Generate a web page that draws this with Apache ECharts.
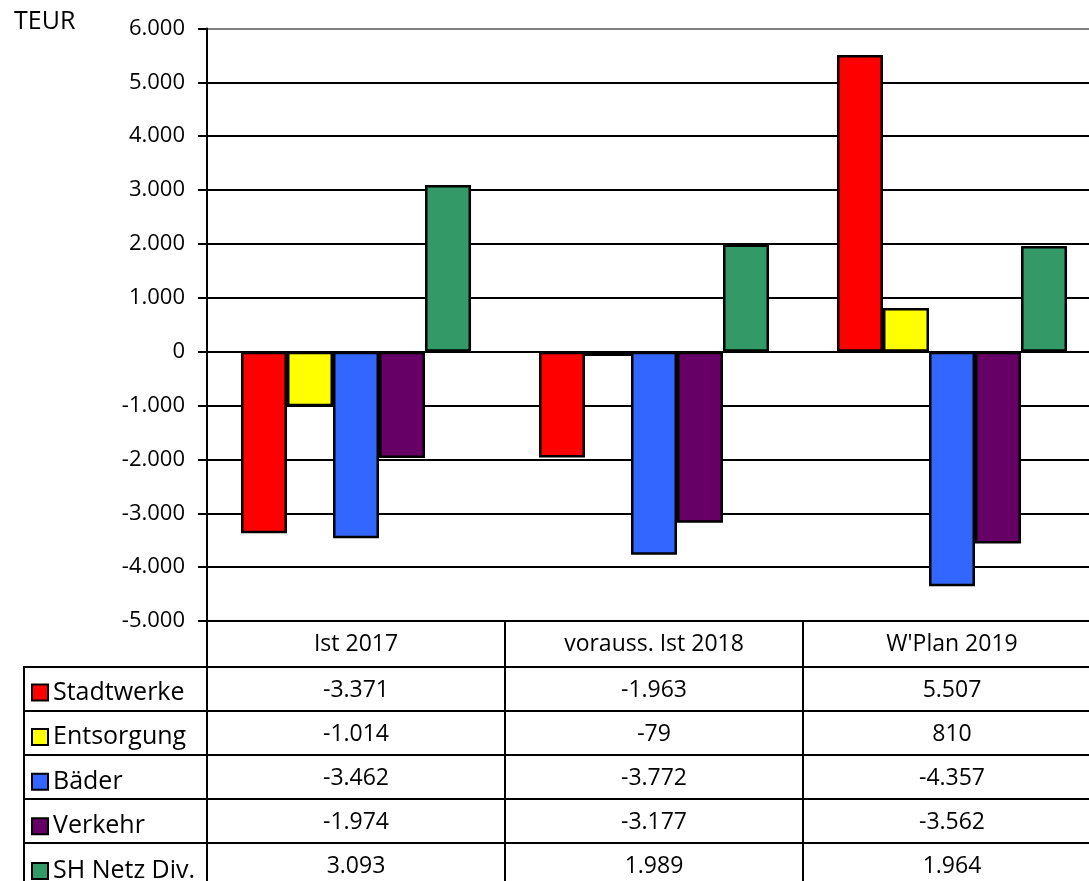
<!DOCTYPE html>
<html><head><meta charset="utf-8">
<script src="https://cdn.jsdelivr.net/npm/echarts@6/dist/echarts.min.js"></script>
<style>html,body{margin:0;padding:0;background:#fff;overflow:hidden;width:1089px;height:881px}#c{width:1110px;height:900px}</style>
</head><body><div id="c"></div>
<script>
const categories = ['Ist 2017', 'vorauss. Ist 2018', "W'Plan 2019"];
const seriesNames = ['Stadtwerke', 'Entsorgung', 'Bäder', 'Verkehr', 'SH Netz Div.'];
const stadtwerke = [-3371, -1963, 5507];
const entsorgung = [-1014, -79, 810];
const baeder = [-3462, -3772, -4357];
const verkehr = [-1974, -3177, -3562];
const shNetz = [3093, 1989, 1964];
const yMin = -5000, yMax = 6000, yStep = 1000;
const seriesColors = ['#FF0000', '#FFFF00', '#3366FF', '#660066', '#339966'];
const seriesValues = [stadtwerke, entsorgung, baeder, verkehr, shNetz];

const FONT = 'Open Sans';
const FW = 500;
const CW = 1110, CH = 900;
const GRID_LEFT = 207, GRID_TOP = 28.5, PLOT_BOTTOM = 621, GRID_WIDTH = 894;
const HEADER_H = 45.5, ROW_H = 44;
const TABLE_LEFT = 24;

function de(v) {
  const s = Math.abs(Math.round(v)).toString().replace(/\B(?=(\d{3})+(?!\d))/g, '.');
  return (v < 0 ? '-' : '') + s;
}

const mkLine = () => ({ color: '#000', width: 2 });
const xAxes = [{
  type: 'category', data: categories, position: 'bottom', offset: 0,
  axisLine: { show: true, onZero: false, lineStyle: mkLine() },
  axisTick: { show: true, length: HEADER_H, lineStyle: mkLine() },
  axisLabel: { fontSize: 23, fontWeight: FW, lineHeight: 24, color: '#000', fontFamily: FONT, margin: 11, interval: 0 },
  splitLine: { show: false }
}];
seriesValues.forEach((vals, k) => {
  xAxes.push({
    type: 'category', data: categories, position: 'bottom', offset: HEADER_H + ROW_H * k,
    axisLine: { show: true, onZero: false, lineStyle: mkLine() },
    axisTick: { show: true, length: k === seriesValues.length - 1 ? 60 : ROW_H, lineStyle: mkLine() },
    axisLabel: { fontSize: 23, fontWeight: FW, lineHeight: 24, color: '#000', fontFamily: FONT, margin: 11.5, interval: 0,
      formatter: (val, idx) => de(vals[idx]) },
    splitLine: { show: false }
  });
});

const nLines = Math.round((yMax - yMin) / yStep) + 1;
const splitColors = [];
for (let i = 0; i < nLines; i++) splitColors.push(i === nLines - 1 ? '#808080' : '#000');

const graphics = [];
for (let k = 0; k < seriesValues.length; k++) {
  const y = Math.round(PLOT_BOTTOM + HEADER_H + ROW_H * k);
  graphics.push({ type: 'line', shape: { x1: TABLE_LEFT - 1, y1: y, x2: GRID_LEFT, y2: y }, style: { stroke: '#000', lineWidth: 2 } });
}
graphics.push({ type: 'line', shape: { x1: TABLE_LEFT, y1: Math.round(PLOT_BOTTOM + HEADER_H) - 1, x2: TABLE_LEFT, y2: CH }, style: { stroke: '#000', lineWidth: 2 } });

const chart = echarts.init(document.getElementById('c'), null, { renderer: 'canvas' });
chart.setOption({
  animation: false,
  backgroundColor: '#fff',
  textStyle: { fontFamily: FONT },
  title: { text: 'TEUR', left: 9, top: 4, textStyle: { fontSize: 25, fontWeight: FW, color: '#000', fontFamily: FONT } },
  legend: {
    data: seriesNames, orient: 'vertical', left: 31, top: 680, padding: 0,
    itemWidth: 16, itemHeight: 16, itemGap: 19.6, icon: 'rect', selectedMode: false,
    textStyle: { fontSize: 25, fontWeight: FW, lineHeight: 24, color: '#000', fontFamily: FONT }
  },
  grid: { left: GRID_LEFT, top: GRID_TOP, right: CW - GRID_LEFT - GRID_WIDTH, bottom: CH - PLOT_BOTTOM, containLabel: false },
  xAxis: xAxes,
  yAxis: {
    type: 'value', min: yMin, max: yMax, interval: yStep,
    axisLine: { show: true, lineStyle: mkLine() },
    axisTick: { show: true, length: 9, lineStyle: mkLine() },
    axisLabel: { fontSize: 22, fontWeight: FW, color: '#000', fontFamily: FONT, margin: 22, formatter: v => de(v) },
    splitLine: { show: true, lineStyle: { color: splitColors, width: 2 } }
  },
  series: seriesNames.map((name, i) => ({
    name, type: 'bar', xAxisIndex: 0, data: seriesValues[i],
    barGap: '0%', barCategoryGap: '22.8%',
    itemStyle: { color: seriesColors[i], borderColor: '#000', borderWidth: 2.5 }
  })),
  graphic: graphics
});
</script></body></html>
